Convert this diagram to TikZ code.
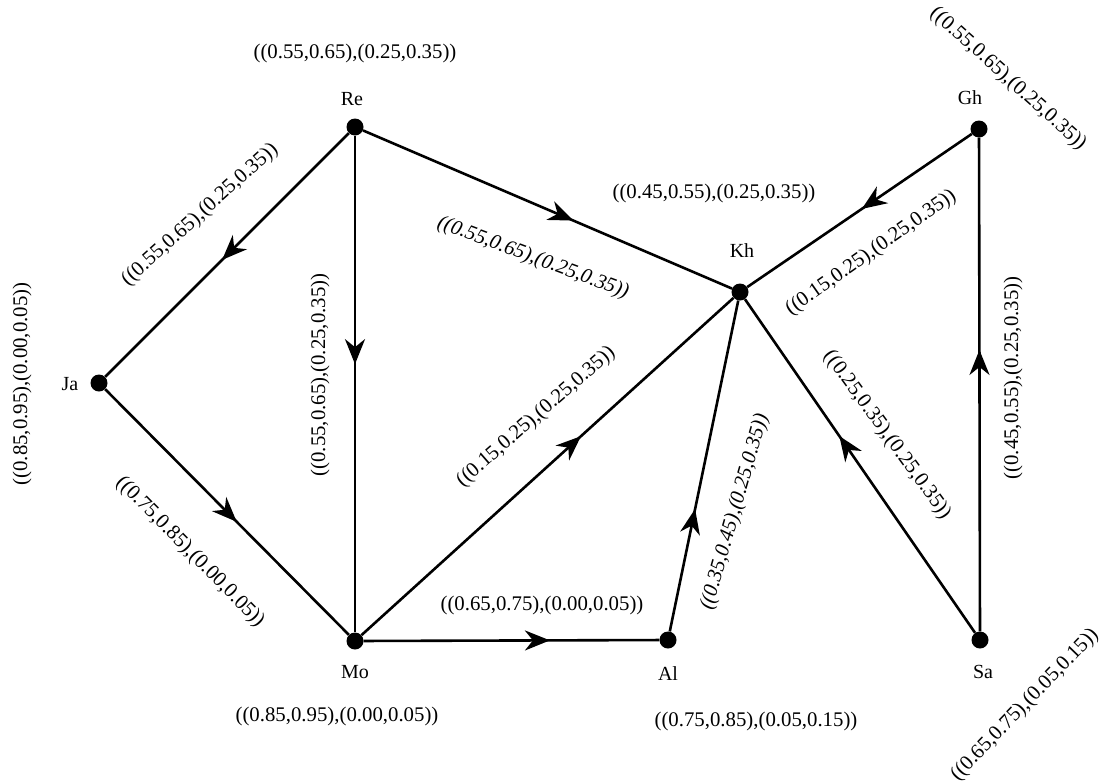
\documentclass[tikz,border=0pt]{standalone}
\usepackage{fontspec}
\setmainfont{Liberation Serif}
\usetikzlibrary{arrows.meta,decorations.markings}
\tikzset{
  dot/.style={circle,fill=black,inner sep=0pt,minimum size=17pt},
  nm/.style={font=\fontsize{20}{24}\selectfont},
  val/.style={font=\fontsize{20.8}{24}\selectfont,inner sep=0pt},
  ival/.style={font=\fontsize{20.8}{24}\selectfont\itshape,inner sep=0pt},
  edge/.style={line width=2.6pt},
  midarrow/.style={edge,postaction={decorate},decoration={markings,
     mark=at position #1 with {\arrow{Stealth[length=25pt,width=20pt,inset=8pt]}}}}
}
\begin{document}
\begin{tikzpicture}[x=1pt,y=-1pt]
\useasboundingbox (0,0) rectangle (1100,782);
% nodes
\node[dot] (Re) at (355,127) {};
\node[dot] (Gh) at (979,129) {};
\node[dot] (Kh) at (740,292) {};
\node[dot] (Ja) at (99,383) {};
\node[dot] (Mo) at (355,641) {};
\node[dot] (Al) at (668,640) {};
\node[dot] (Sa) at (980,640) {};
% names
\node[nm] (nRe) at (352,99) {Re};
\node[nm] (nGh) at (970,98) {Gh};
\node[nm] (nKh) at (742,251) {Kh};
\node[nm] (nJa) at (70,384) {Ja};
\node[nm] (nMo) at (355,672) {Mo};
\node[nm] (nAl) at (668,674) {Al};
\node[nm] (nSa) at (983,672) {Sa};
% node values
\node[val] (vRe) at (355,53) {((0.55,0.65),(0.25,0.35))};
\node[val,rotate=-42] (vGh) at (1008,79) {((0.55,0.65),(0.25,0.35))};
\node[val] (vKh) at (714,193) {((0.45,0.55),(0.25,0.35))};
\node[val,rotate=90] (vJa) at (22,384) {((0.85,0.95),(0.00,0.05))};
\node[val] (vMo) at (337,716) {((0.85,0.95),(0.00,0.05))};
\node[val] (vAl) at (756,721) {((0.75,0.85),(0.05,0.15))};
\node[val,rotate=46] (vSa) at (1025,705) {((0.65,0.75),(0.05,0.15))};
% edges
\draw[midarrow=0.52] (Re) -- (Ja);
\draw[midarrow=0.46] (Re) -- (Mo);
\draw[midarrow=0.57] (Re) -- (Kh);
\draw[midarrow=0.49] (Gh) -- (Kh);
\draw[midarrow=0.54] (Ja) -- (Mo);
\draw[midarrow=0.59] (Mo) -- (Kh);
\draw[midarrow=0.63] (Mo) -- (Al);
\draw[midarrow=0.37] (Al) -- (Kh);
\draw[midarrow=0.59] (Sa) -- (Kh);
\draw[midarrow=0.57] (Sa) -- (Gh);
% edge labels
\node[val,rotate=42] (eReJa) at (200,215) {((0.55,0.65),(0.25,0.35))};
\node[val,rotate=90] (eReMo) at (320,375) {((0.55,0.65),(0.25,0.35))};
\node[ival,rotate=-20.5] (eReKh) at (533,258) {((0.55,0.65),(0.25,0.35))};
\node[val,rotate=35] (eGhKh) at (871,253) {((0.15,0.25),(0.25,0.35))};
\node[val,rotate=-45.5] (eJaMo) at (190,552) {((0.75,0.85),(0.00,0.05))};
\node[val,rotate=41] (eMoKh) at (536,417) {((0.15,0.25),(0.25,0.35))};
\node[val] (eMoAl) at (542,605) {((0.65,0.75),(0.00,0.05))};
\node[ival,rotate=74] (eAlKh) at (735,512) {((0.35,0.45),(0.25,0.35))};
\node[val,rotate=-54] (eSaKh) at (887,435) {((0.25,0.35),(0.25,0.35))};
\node[val,rotate=90] (eSaGh) at (1013,378) {((0.45,0.55),(0.25,0.35))};
\end{tikzpicture}
\end{document}
